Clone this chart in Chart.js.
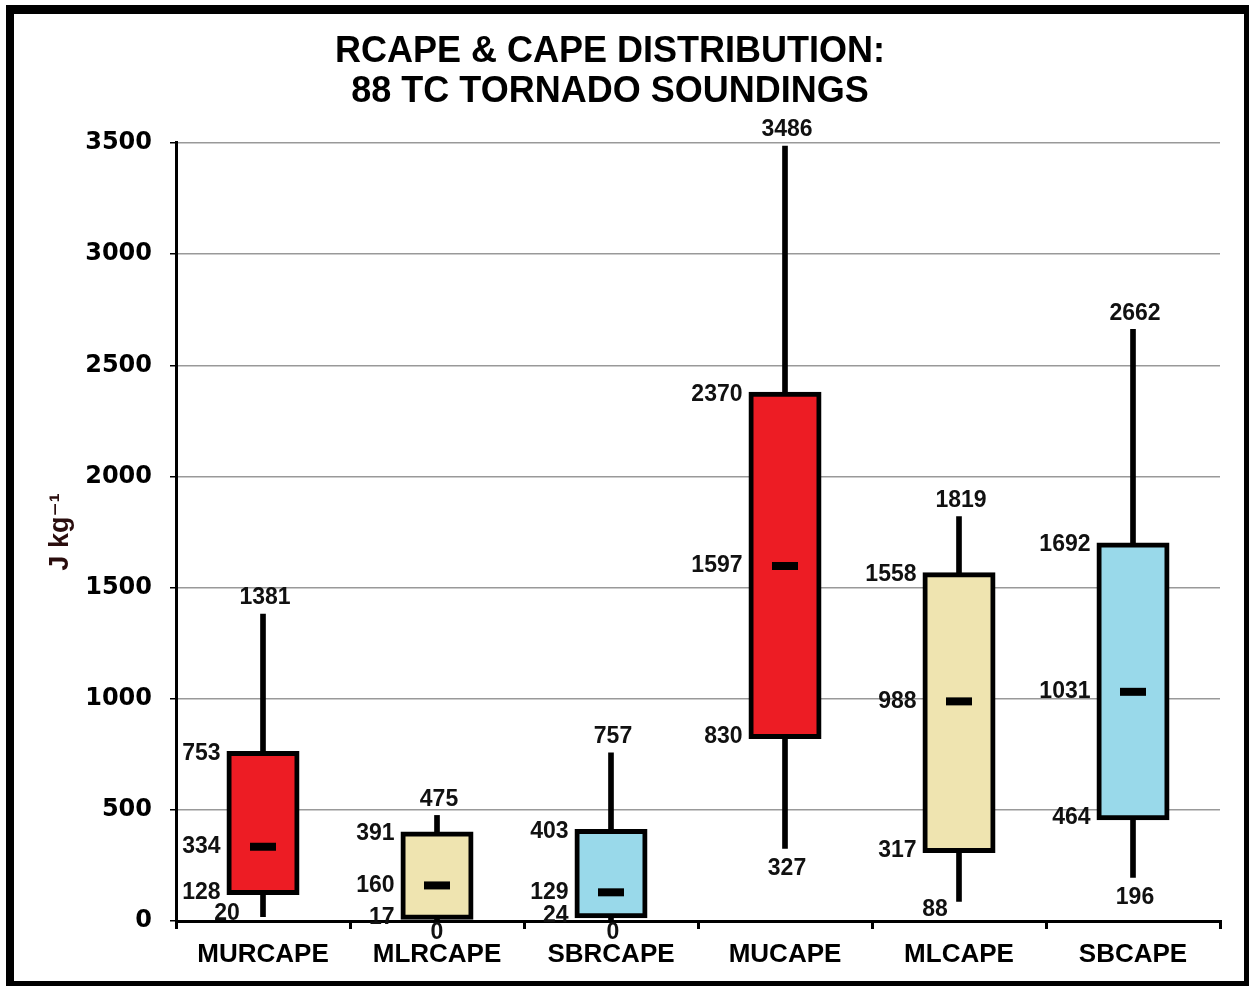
<!DOCTYPE html>
<html>
<head>
<meta charset="utf-8">
<script src="https://cdn.jsdelivr.net/npm/chart.js@4/dist/chart.umd.min.js"></script>
<style>
  html, body { margin: 0; padding: 0; background: #fff; }
  #wrap { position: relative; width: 1249px; height: 986px; }
  #frame {
    position: absolute; left: 6px; top: 5px; width: 1230px; height: 967px;
    border-style: solid; border-color: #000;
    border-width: 9px 5px 5px 8px;
    pointer-events: none;
  }
</style>
</head>
<body>
<div id="wrap">
  <canvas id="boxChart" width="1249" height="986"></canvas>
  <div id="frame"></div>
</div>
<script>
// datos
const categories = ['MURCAPE', 'MLRCAPE', 'SBRCAPE', 'MUCAPE', 'MLCAPE', 'SBCAPE'];
const minVals    = [20, 0, 0, 327, 88, 196];
const q1Vals     = [128, 17, 24, 830, 317, 464];
const medianVals = [334, 160, 129, 1597, 988, 1031];
const q3Vals     = [753, 391, 403, 2370, 1558, 1692];
const maxVals    = [1381, 475, 757, 3486, 1819, 2662];
const yTicks     = [0, 500, 1000, 1500, 2000, 2500, 3000, 3500];

// estilos
const boxColors = ['#ED1C24', '#EFE4B0', '#99D9EA', '#ED1C24', '#EFE4B0', '#99D9EA'];
// desplazamiento de la etiqueta del minimo (dx, dy en px)
const minLabelShift = [[-38, -3], [-2, 12], [0, 12], [0, 20], [-26, 8], [0, 20]];

const SANS = '"Liberation Sans", Arial, "DejaVu Sans", sans-serif';

// etiquetas de valores alrededor de cada caja
const valueLabels = {
    id: 'valueLabels',
    afterDatasetsDraw(chart) {
        const ctx = chart.ctx;
        const x = chart.scales.x;
        const y = chart.scales.y;
        const half = 36.5;
        ctx.save();
        ctx.font = 'bold 23px ' + SANS;
        ctx.fillStyle = '#111';
        ctx.textBaseline = 'middle';
        categories.forEach((c, i) => {
            const cx = x.getPixelForValue(i) + 2;
            // maximo arriba
            ctx.textAlign = 'center';
            ctx.fillText(String(maxVals[i]), cx, y.getPixelForValue(maxVals[i]) - 16);
            // minimo abajo
            const s = minLabelShift[i];
            ctx.fillText(String(minVals[i]), cx + s[0], y.getPixelForValue(minVals[i]) + s[1]);
            // q3, mediana, q1 a la izquierda
            ctx.textAlign = 'right';
            [q3Vals[i], medianVals[i], q1Vals[i]].forEach(v => {
                ctx.fillText(String(v), cx - half - 8, y.getPixelForValue(v));
            });
        });
        ctx.restore();
    }
};

const ctx = document.getElementById('boxChart').getContext('2d');
new Chart(ctx, {
    type: 'bar',
    data: {
        labels: categories,
        datasets: [
            {
                type: 'line',
                label: 'Mediana',
                data: medianVals,
                showLine: false,
                pointStyle: 'line',
                pointRadius: 13,
                pointBorderWidth: 8,
                pointBorderColor: '#000',
                pointBackgroundColor: '#000',
                order: 0
            },
            {
                label: 'Caja',
                data: categories.map((c, i) => [q1Vals[i], q3Vals[i]]),
                backgroundColor: boxColors,
                borderColor: '#000',
                borderWidth: 5,
                borderSkipped: false,
                barThickness: 68,
                inflateAmount: 2.5,
                grouped: false,
                order: 1
            },
            {
                label: 'Bigotes',
                data: categories.map((c, i) => [minVals[i], maxVals[i]]),
                backgroundColor: '#000',
                borderWidth: 0,
                barThickness: 5,
                grouped: false,
                order: 2
            }
        ]
    },
    options: {
        responsive: false,
        animation: false,
        layout: { padding: { top: 32, left: 0, right: 29, bottom: 15 } },
        scales: {
            x: {
                afterFit(scale) { scale.height = 50; },
                grid: {
                    offset: true,
                    drawOnChartArea: false,
                    drawTicks: true,
                    tickLength: 8,
                    color: '#000',
                    lineWidth: 3
                },
                border: { display: true, color: '#000', width: 3 },
                ticks: {
                    padding: 10,
                    color: '#000',
                    font: { family: SANS, size: 26, weight: 'bold' }
                }
            },
            y: {
                min: 0,
                max: 3500,
                afterFit(scale) { scale.width = 176; },
                afterBuildTicks(scale) { scale.ticks = yTicks.map(v => ({ value: v })); },
                grid: {
                    color: '#999',
                    lineWidth: 1.5,
                    tickColor: '#000',
                    tickLength: 6
                },
                border: { display: true, color: '#000', width: 3 },
                ticks: {
                    padding: 18,
                    color: '#000',
                    font: { family: '"DejaVu Sans", sans-serif', size: 24, weight: 'bold' },
                    callback: v => String(v)
                },
                title: {
                    display: true,
                    text: 'J kg⁻¹',
                    color: '#2a0d0d',
                    font: { family: SANS + ', "DejaVu Sans"', size: 27, weight: 'bold' },
                    padding: { top: 44, bottom: 0 }
                }
            }
        },
        plugins: {
            legend: { display: false },
            tooltip: { enabled: false },
            title: {
                display: true,
                text: ['RCAPE & CAPE DISTRIBUTION:', '88 TC TORNADO SOUNDINGS'],
                color: '#000',
                font: { family: SANS, size: 36, weight: 'bold', lineHeight: 1.111 },
                padding: { top: 0, bottom: 31 }
            }
        }
    },
    plugins: [valueLabels]
});
</script>
</body>
</html>
